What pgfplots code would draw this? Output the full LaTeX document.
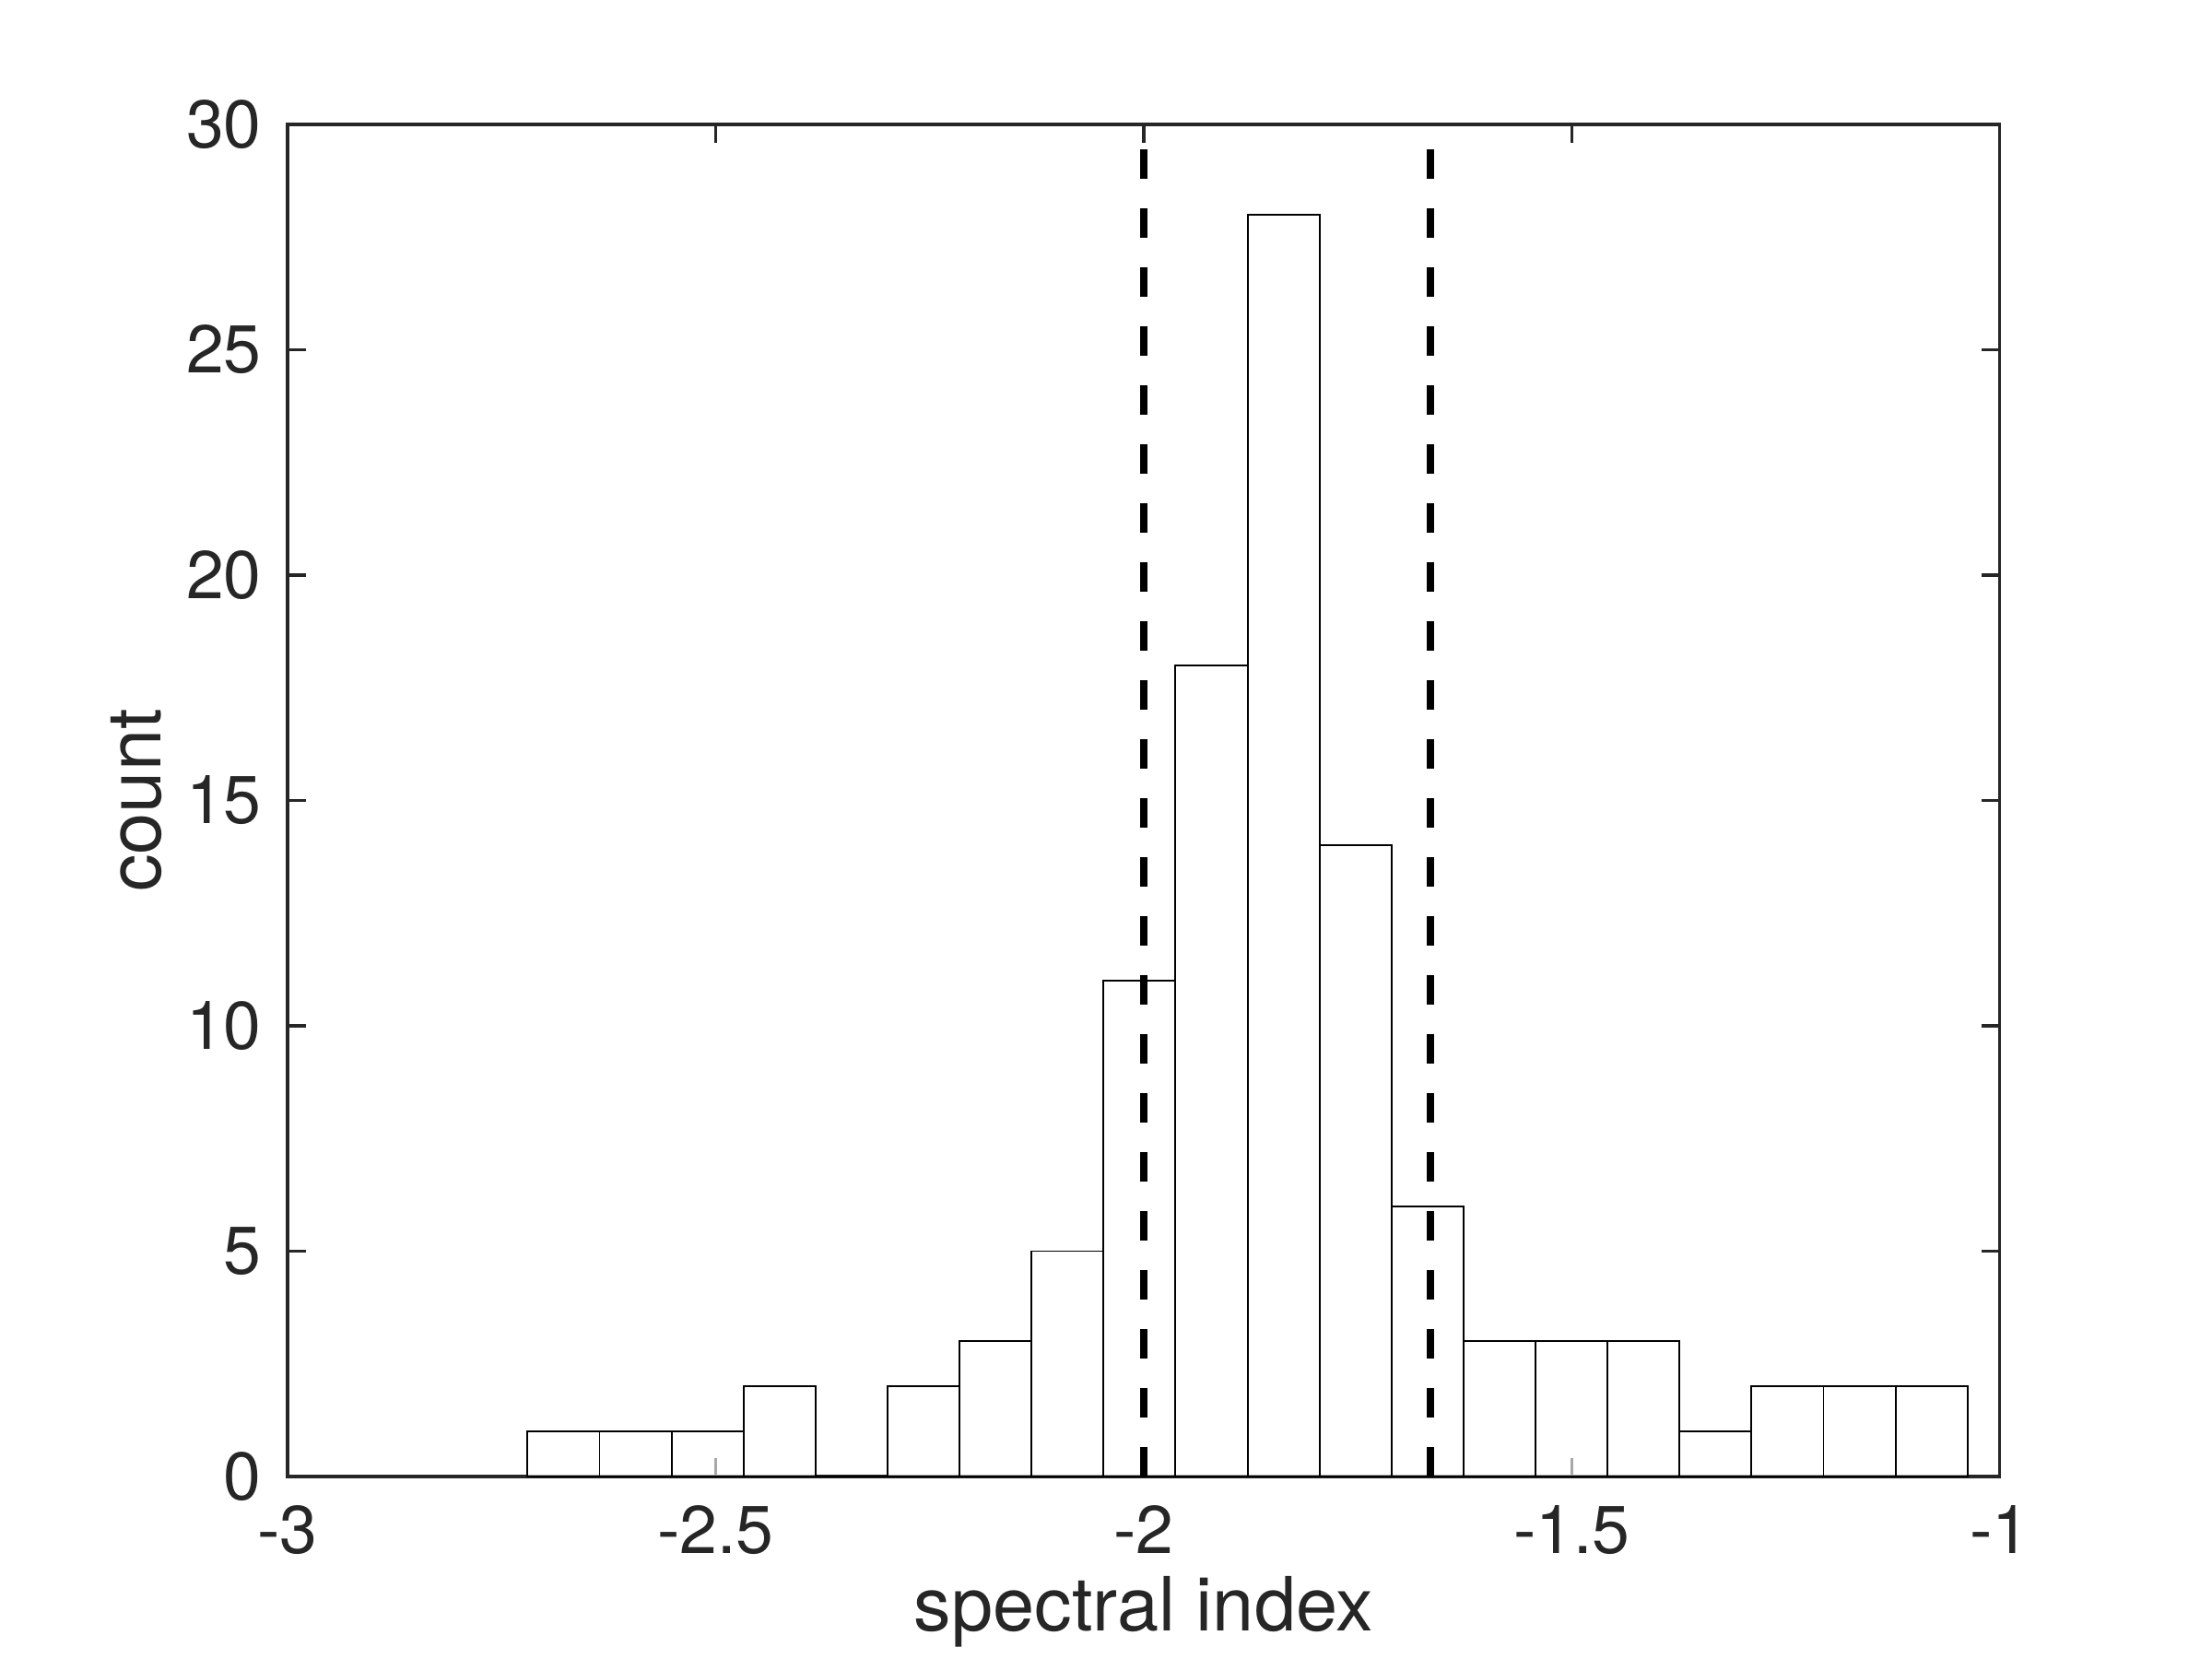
\documentclass[border=0pt]{standalone}
\usepackage{pgfplots}
\pgfplotsset{compat=1.18}
\usepackage{fontspec}
\setmainfont{TeX Gyre Heros}
\definecolor{axgray}{HTML}{262626}
\begin{document}
\begin{tikzpicture}
\useasboundingbox (-56.16pt,-35.64pt) rectangle (375.84pt,288.36pt);
\begin{axis}[
  at={(0,0)}, anchor=south west,
  scale only axis,
  width=334.4pt, height=264.06pt,
  xmin=-3, xmax=-1, ymin=0, ymax=30,
  clip=false,
  axis line style={axgray, line width=0.6pt},
  every tick/.style={axgray, line width=0.6pt},
  major tick length=3.6pt,
  tick align=inside,
  xtick={-3,-2.5,-2,-1.5,-1},
  xticklabels={-3,-2.5,-2,-1.5,-1},
  ytick={0,5,10,15,20,25,30},
  yticklabels={0,5,10,15,20,25,30},
  tick label style={font=\fontsize{13.2}{15}\selectfont, text=axgray},
  xticklabel style={anchor=north, inner sep=0pt, yshift=-5.4pt},
  yticklabel style={anchor=east, inner sep=0pt, xshift=-4.9pt},
  xlabel={spectral index},
  ylabel={count},
  label style={font=\fontsize{14.6}{17}\selectfont, text=axgray, inner sep=0pt},
  xlabel style={at={(axis description cs:0.5,0)}, anchor=base, yshift=-30.2pt},
  ylabel style={at={(axis description cs:0,0.5)}, rotate=0, anchor=base, yshift=24.8pt},
]
\addplot[ybar interval, draw=black, fill=white, fill opacity=0.6, draw opacity=1, line width=0.35pt] coordinates {
  (-2.7197,1) (-2.6356,1) (-2.5515,1) (-2.4674,2) (-2.3833,0)
  (-2.2992,2) (-2.2151,3) (-2.1310,5) (-2.0469,11) (-1.9628,18)
  (-1.8787,28) (-1.7946,14) (-1.7105,6) (-1.6264,3) (-1.5423,3)
  (-1.4582,3) (-1.3741,1) (-1.2900,2) (-1.2059,2) (-1.1218,2)
  (-1.0377,2)
};
\addplot[black, line width=1.45pt, dash pattern=on 5.76pt off 5.76pt] coordinates {(-2.0,0) (-2.0,30)};
\addplot[black, line width=1.45pt, dash pattern=on 5.76pt off 5.76pt] coordinates {(-1.665,0) (-1.665,30)};
\end{axis}
\end{tikzpicture}
\end{document}
